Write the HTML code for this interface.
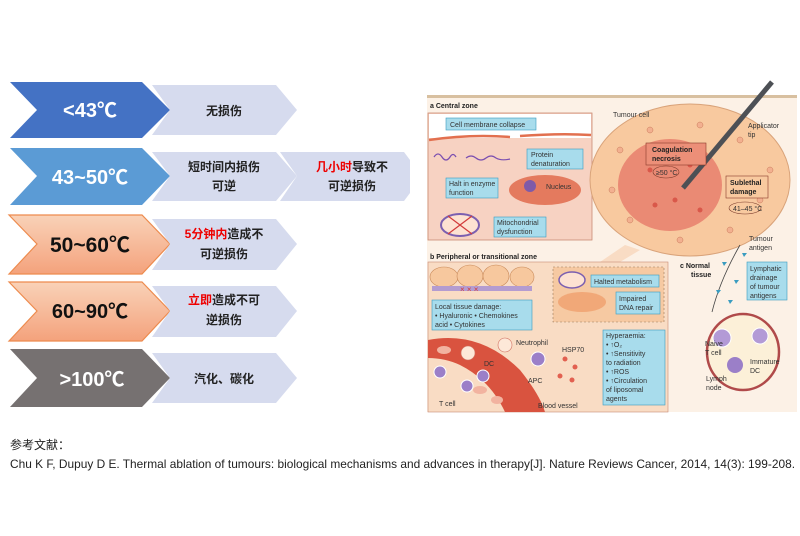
<!DOCTYPE html>
<html><head><meta charset="utf-8"><style>
html,body{margin:0;padding:0;background:#fff;}
svg{display:block;font-family:"Liberation Sans","Noto Sans CJK SC",sans-serif;}
.s{font-size:7px;fill:#333}
.b{font-size:7px;fill:#222;font-weight:bold}
</style></head><body>
<svg width="800" height="536" viewBox="0 0 800 536" xmlns="http://www.w3.org/2000/svg">
<defs>
<linearGradient id="og" x1="0" y1="0" x2="0" y2="1"><stop offset="0" stop-color="#f9d2b8"/><stop offset="1" stop-color="#f4a27c"/></linearGradient>
</defs>
<g font-family="Liberation Sans, Noto Sans CJK SC, sans-serif">
<polygon points="10,82 142,82 170,110 142,138 10,138 37,110" fill="#4472c4"/>
<polygon points="152,85 276,85 297,110 276,135 152,135 170,110" fill="#d6dbee"/>
<text x="90" y="117" text-anchor="middle" font-size="20" font-weight="bold" fill="#fff">&lt;43℃</text>
<text x="224" y="115" text-anchor="middle" font-size="12" font-weight="bold" fill="#222">无损伤</text>

<polygon points="10,148 142,148 170,176 142,205 10,205 37,176" fill="#5b9bd5"/>
<polygon points="152,152 276,152 297,176 276,201 152,201 170,176" fill="#d6dbee"/>
<polygon points="280,152 404,152 410,160 410,193 404,201 280,201 297,176" fill="#d6dbee"/>
<text x="90" y="184" text-anchor="middle" font-size="20" font-weight="bold" fill="#fff">43~50℃</text>
<text x="224" y="171" text-anchor="middle" font-size="12" font-weight="bold" fill="#222">短时间内损伤</text>
<text x="224" y="190" text-anchor="middle" font-size="12" font-weight="bold" fill="#222">可逆</text>
<text x="352" y="171" text-anchor="middle" font-size="12" font-weight="bold" fill="#222"><tspan fill="#e00">几小时</tspan>导致不</text>
<text x="352" y="190" text-anchor="middle" font-size="12" font-weight="bold" fill="#222">可逆损伤</text>

<polygon points="9,215 142,215 170,244 142,274 9,274 37,244" fill="url(#og)" stroke="#ed8b4e" stroke-width="1.2"/>
<polygon points="152,219 276,219 297,244 276,270 152,270 170,244" fill="#d6dbee"/>
<text x="90" y="252" text-anchor="middle" font-size="21" font-weight="bold" fill="#111">50~60℃</text>
<text x="224" y="238" text-anchor="middle" font-size="12" font-weight="bold" fill="#222"><tspan fill="#e00">5分钟内</tspan>造成不</text>
<text x="224" y="258" text-anchor="middle" font-size="12" font-weight="bold" fill="#222">可逆损伤</text>

<polygon points="9,282 142,282 170,311 142,341 9,341 37,311" fill="url(#og)" stroke="#ed8b4e" stroke-width="1.2"/>
<polygon points="152,286 276,286 297,311 276,337 152,337 170,311" fill="#d6dbee"/>
<text x="90" y="318" text-anchor="middle" font-size="20" font-weight="bold" fill="#111">60~90℃</text>
<text x="224" y="304" text-anchor="middle" font-size="12" font-weight="bold" fill="#222"><tspan fill="#e00">立即</tspan>造成不可</text>
<text x="224" y="324" text-anchor="middle" font-size="12" font-weight="bold" fill="#222">逆损伤</text>

<polygon points="10,349 142,349 170,378 142,407 10,407 37,378" fill="#767171"/>
<polygon points="152,353 276,353 297,378 276,403 152,403 170,378" fill="#d6dbee"/>
<text x="92" y="386" text-anchor="middle" font-size="20" font-weight="bold" fill="#fff">&gt;100℃</text>
<text x="224" y="383" text-anchor="middle" font-size="12" font-weight="bold" fill="#222">汽化、碳化</text>
</g>

<rect x="427" y="95" width="370" height="317" fill="#fcf1e6"/>
<rect x="427" y="95" width="370" height="3" fill="#d8c0a0"/>
<text x="430" y="108" class="b">a  Central zone</text>
<rect x="428" y="113" width="164" height="127" fill="#f7d2c2" stroke="#c98a75" stroke-width="0.8"/>
<rect x="429" y="114" width="162" height="24" fill="#fff"/>
<path d="M429,140 Q470,134 510,137 M520,136 Q560,133 591,135" stroke="#e2704f" stroke-width="2.5" fill="none"/>
<rect x="446" y="118" width="90" height="12" fill="#a8dcec" stroke="#3a9cc0" stroke-width="0.6"/>
<text x="450" y="127" class="s">Cell membrane collapse</text>
<path d="M434,157 q4,-6 8,0 q4,6 8,0 q3,-5 6,0" stroke="#7b4fb0" stroke-width="1.3" fill="none"/>
<path d="M466,158 q5,-4 10,0 q5,4 10,0 q5,-4 10,0 q5,3 14,1" stroke="#7b4fb0" stroke-width="1.2" fill="none"/>
<rect x="527" y="149" width="56" height="20" fill="#a8dcec" stroke="#3a9cc0" stroke-width="0.6"/>
<text x="531" y="157" class="s">Protein</text><text x="531" y="166" class="s">denaturation</text>
<rect x="446" y="178" width="52" height="20" fill="#a8dcec" stroke="#3a9cc0" stroke-width="0.6"/>
<text x="449" y="186" class="s">Halt in enzyme</text><text x="449" y="195" class="s">function</text>
<ellipse cx="545" cy="190" rx="36" ry="15" fill="#e47a5e"/>
<circle cx="530" cy="186" r="6" fill="#7f5aa8"/>
<text x="546" y="189" class="s">Nucleus</text>
<ellipse cx="460" cy="225" rx="19" ry="11" fill="#fde2d2" stroke="#7b5fb0" stroke-width="2"/>
<path d="M448,216 L472,234 M472,216 L448,234" stroke="#d23b3b" stroke-width="1.2"/>
<rect x="494" y="217" width="52" height="20" fill="#a8dcec" stroke="#3a9cc0" stroke-width="0.6"/>
<text x="497" y="225" class="s">Mitochondrial</text><text x="497" y="234" class="s">dysfunction</text>
<polygon points="592,165 665,178 592,188" fill="#f6c4b0" opacity="0.7"/>
<ellipse cx="690" cy="180" rx="100" ry="76" fill="#f8c99f" stroke="#d9a37a" stroke-width="1"/>
<ellipse cx="670" cy="185" rx="52" ry="46" fill="#ea8a74"/>
<g fill="#f3b090" stroke="#c97a5a" stroke-width="0.5">
<circle cx="620" cy="150" r="3"/><circle cx="650" cy="130" r="3"/><circle cx="700" cy="125" r="3"/><circle cx="740" cy="140" r="3"/><circle cx="760" cy="200" r="3"/><circle cx="730" cy="230" r="3"/><circle cx="680" cy="240" r="3"/><circle cx="630" cy="220" r="3"/><circle cx="612" cy="190" r="3"/><circle cx="770" cy="170" r="3"/>
</g>
<g fill="#d9584a"><circle cx="650" cy="170" r="2.5"/><circle cx="675" cy="200" r="2.5"/><circle cx="690" cy="165" r="2.5"/><circle cx="655" cy="205" r="2.5"/><circle cx="700" cy="210" r="2.5"/></g>
<line x1="772" y1="82" x2="683" y2="188" stroke="#4d5055" stroke-width="5"/>
<rect x="646" y="143" width="60" height="22" fill="#ec8f78" stroke="#8a3a2a" stroke-width="0.6"/>
<text x="652" y="152" class="b">Coagulation</text><text x="652" y="161" class="b">necrosis</text>
<ellipse cx="666" cy="172" rx="13" ry="6" fill="none" stroke="#7a3a2a" stroke-width="0.6"/>
<text x="656" y="175" class="s" font-size="6">≥50 °C</text>
<rect x="726" y="176" width="42" height="22" fill="#f8c99f" stroke="#8a3a2a" stroke-width="0.6"/>
<text x="730" y="185" class="b">Sublethal</text><text x="730" y="194" class="b">damage</text>
<ellipse cx="745" cy="208" rx="16" ry="6" fill="none" stroke="#7a3a2a" stroke-width="0.6"/>
<text x="733" y="211" class="s" font-size="6">41–45 °C</text>
<text x="613" y="117" class="s">Tumour cell</text>
<text x="748" y="128" class="s">Applicator</text><text x="748" y="137" class="s">tip</text>
<text x="749" y="241" class="s">Tumour</text><text x="749" y="250" class="s">antigen</text>
<polygon points="600,262 625,245 640,250 620,262" fill="#f9dcc4"/>
<text x="430" y="259" class="b">b  Peripheral or transitional zone</text>
<rect x="428" y="262" width="240" height="150" fill="#f9dcc4" stroke="#c98a75" stroke-width="0.6"/>
<g fill="#f7c89e" stroke="#c98a5a" stroke-width="0.6">
<ellipse cx="444" cy="277" rx="14" ry="10"/><ellipse cx="470" cy="276" rx="13" ry="11"/><ellipse cx="496" cy="276" rx="13" ry="11"/><ellipse cx="522" cy="277" rx="12" ry="10"/></g>
<rect x="432" y="286" width="100" height="5" fill="#b49cd0"/>
<text x="460" y="292" font-size="8" fill="#d23b3b">×  ×  ×</text>
<rect x="553" y="267" width="111" height="55" fill="#f6c9a2" stroke="#9a7a5a" stroke-width="0.6" stroke-dasharray="2,2"/>
<ellipse cx="572" cy="280" rx="13" ry="8" fill="#fde2d2" stroke="#7b5fb0" stroke-width="1.5"/>
<rect x="591" y="275" width="68" height="12" fill="#a8dcec" stroke="#3a9cc0" stroke-width="0.6"/>
<text x="594" y="284" class="s">Halted metabolism</text>
<ellipse cx="582" cy="302" rx="24" ry="10" fill="#f1a878"/>
<rect x="616" y="292" width="44" height="22" fill="#a8dcec" stroke="#3a9cc0" stroke-width="0.6"/>
<text x="619" y="301" class="s">Impaired</text><text x="619" y="310" class="s">DNA repair</text>
<rect x="432" y="300" width="100" height="30" fill="#a8dcec" stroke="#3a9cc0" stroke-width="0.6"/>
<text x="435" y="309" class="s">Local tissue damage:</text>
<text x="435" y="318" class="s">• Hyaluronic • Chemokines</text>
<text x="435" y="327" class="s">  acid         • Cytokines</text>
<path d="M428,340 Q480,330 520,370 Q540,395 545,412 L505,412 Q490,380 460,365 Q445,358 428,358 Z" fill="#d9533f"/>
<g fill="#f2b3a0"><ellipse cx="444" cy="350" rx="7" ry="4"/><ellipse cx="480" cy="390" rx="7" ry="4"/><ellipse cx="497" cy="400" rx="6" ry="4"/></g>
<g fill="#9b7fc8" stroke="#fff" stroke-width="1"><circle cx="440" cy="372" r="6"/><circle cx="467" cy="386" r="6"/><circle cx="483" cy="376" r="6"/><circle cx="538" cy="359" r="7"/></g>
<circle cx="468" cy="353" r="7" fill="#fde8d8" stroke="#d07060" stroke-width="0.6"/>
<circle cx="505" cy="345" r="7" fill="#fde8d8" stroke="#d07060" stroke-width="0.6"/>
<text x="516" y="345" class="s">Neutrophil</text>
<text x="484" y="366" class="s">DC</text><text x="528" y="383" class="s">APC</text>
<text x="562" y="352" class="s">HSP70</text>
<g fill="#e26050"><circle cx="565" cy="359" r="2.5"/><circle cx="575" cy="367" r="2.5"/><circle cx="560" cy="376" r="2.5"/><circle cx="572" cy="380" r="2.5"/></g>
<text x="439" y="406" class="s">T cell</text><text x="538" y="408" class="s">Blood vessel</text>
<rect x="603" y="330" width="62" height="75" fill="#a8dcec" stroke="#3a9cc0" stroke-width="0.6"/>
<text x="606" y="338" class="s">Hyperaemia:</text>
<text x="606" y="347" class="s">• ↑O₂</text>
<text x="606" y="356" class="s">• ↑Sensitivity</text>
<text x="606" y="365" class="s">  to radiation</text>
<text x="606" y="374" class="s">• ↑ROS</text>
<text x="606" y="383" class="s">• ↑Circulation</text>
<text x="606" y="392" class="s">  of liposomal</text>
<text x="606" y="401" class="s">  agents</text>
<text x="680" y="268" class="b">c  Normal</text><text x="691" y="277" class="b">tissue</text>
<rect x="747" y="262" width="40" height="38" fill="#a8dcec" stroke="#3a9cc0" stroke-width="0.6"/>
<text x="750" y="271" class="s">Lymphatic</text><text x="750" y="280" class="s">drainage</text><text x="750" y="289" class="s">of tumour</text><text x="750" y="298" class="s">antigens</text>
<path d="M740,245 Q720,280 712,312" stroke="#444" stroke-width="0.8" fill="none"/>
<g fill="#3a9cc0"><polygon points="722,262 727,262 724,266"/><polygon points="734,280 739,280 736,284"/><polygon points="716,290 721,290 718,294"/><polygon points="728,300 733,300 730,304"/><polygon points="742,253 747,253 744,257"/></g>
<ellipse cx="743" cy="352" rx="36" ry="38" fill="#fcf0d8" stroke="#b04a4a" stroke-width="2.5"/>
<circle cx="722" cy="338" r="9" fill="#b39ad6" stroke="#fff"/><circle cx="760" cy="336" r="8" fill="#b39ad6" stroke="#fff"/>
<circle cx="735" cy="365" r="8" fill="#9b7fc8"/>
<text x="705" y="346" class="s">Naive</text><text x="705" y="355" class="s">T cell</text>
<text x="750" y="364" class="s">Immature</text><text x="750" y="373" class="s">DC</text>
<text x="706" y="381" class="s">Lymph</text><text x="706" y="390" class="s">node</text>

<text x="10" y="449" font-size="12" fill="#222" font-family="Liberation Sans, Noto Sans CJK SC, sans-serif">参考文献：</text>
<text x="10" y="468" font-size="12" fill="#222" textLength="785" lengthAdjust="spacingAndGlyphs">Chu K F, Dupuy D E. Thermal ablation of tumours: biological mechanisms and advances in therapy[J]. Nature Reviews Cancer, 2014, 14(3): 199-208.</text>
</svg>
</body></html>
